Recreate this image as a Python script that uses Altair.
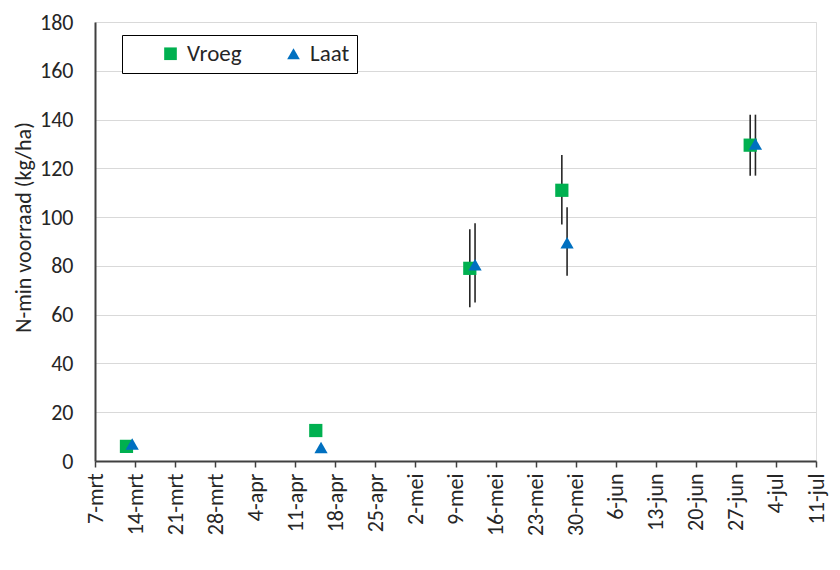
import altair as alt
import pandas as pd

# ---- data ----
series = ["Vroeg", "Laat"]
colors = ["#00B050", "#0070C0"]
shapes = ["square", "triangle-up"]

vroeg_dates = ["2022-03-12T12:00:00Z", "2022-04-14T14:00:00Z", "2022-05-11T12:00:00Z",
               "2022-05-27T14:00:00Z", "2022-06-29T12:00:00Z"]
vroeg_vals = [6, 12.5, 79, 111, 129.5]
vroeg_low = [None, None, 63, 97, 117]
vroeg_high = [None, None, 95, 125.5, 142]

laat_dates = ["2022-03-13T12:00:00Z", "2022-04-15T12:00:00Z", "2022-05-12T10:00:00Z",
              "2022-05-28T12:00:00Z", "2022-06-30T10:00:00Z"]
laat_vals = [7, 5.5, 80.5, 89.5, 130]
laat_low = [None, None, 65, 76, 117]
laat_high = [None, None, 97.5, 104, 142]

tick_dates = ["2022-03-07", "2022-03-14", "2022-03-21", "2022-03-28", "2022-04-04",
              "2022-04-11", "2022-04-18", "2022-04-25", "2022-05-02", "2022-05-09",
              "2022-05-16", "2022-05-23", "2022-05-30", "2022-06-06", "2022-06-13",
              "2022-06-20", "2022-06-27", "2022-07-04", "2022-07-11"]
month_names = ["jan", "feb", "mrt", "apr", "mei", "jun", "jul", "aug", "sep", "okt", "nov", "dec"]
y_ticks = [0, 20, 40, 60, 80, 100, 120, 140, 160, 180]

rows = []
for name, ds, vs, lo, hi in [("Vroeg", vroeg_dates, vroeg_vals, vroeg_low, vroeg_high),
                             ("Laat", laat_dates, laat_vals, laat_low, laat_high)]:
    for d, v, l, h in zip(ds, vs, lo, hi):
        rows.append({"serie": name, "date": d, "value": v, "low": l, "high": h})
df = pd.DataFrame(rows)

tick_ms = [int(pd.Timestamp(t, tz="UTC").timestamp() * 1000) for t in tick_dates]
month_js = "[" + ",".join("'%s'" % m for m in month_names) + "]"
label_expr = "utcdate(datum.value) + '-' + " + month_js + "[utcmonth(datum.value)]"

FONT = "Calibri, Carlito, Lato, sans-serif"
FS = 22

x_enc = alt.X(
    "date:T",
    scale=alt.Scale(type="utc", domain=[tick_ms[0], tick_ms[-1]], nice=False),
    axis=alt.Axis(values=tick_ms, labelExpr=label_expr, labelAngle=-90, grid=False,
                  title=None, tickSize=6, tickColor="#404040", tickWidth=1.5,
                  domainColor="#404040", domainWidth=2, labelPadding=6,
                  labelFontSize=FS, labelColor="#262626", labelFont=FONT),
)
y_enc = alt.Y(
    "value:Q",
    scale=alt.Scale(domain=[0, 180], nice=False),
    axis=alt.Axis(values=y_ticks, ticks=False, grid=True, gridColor="#d9d9d9",
                  gridWidth=1.2, domainColor="#404040", domainWidth=2,
                  labelPadding=22, labelFontSize=FS, labelColor="#262626", labelFont=FONT,
                  title="N-min voorraad (kg/ha)", titleFontSize=22,
                  titleFontWeight="normal", titleColor="#262626", titleFont=FONT,
                  titleX=-60, titleY=205),
)

legend = alt.Legend(orient="none", legendX=27, legendY=13, direction="horizontal",
                    title=" ", titleOrient="left", titlePadding=30, titleFontSize=10,
                    strokeColor="black", fillColor="white",
                    labelExpr="datum.label == 'Laat' ? 'Laat\u00a0\u00a0\u00a0\u00a0\u00a0\u00a0\u00a0' : datum.label",
                    padding=7, labelFontSize=23, labelFont=FONT, labelColor="#262626",
                    symbolSize=160, columnPadding=40, labelOffset=5,
                    symbolStrokeWidth=0)

base = alt.Chart(df)

rules = base.transform_filter("isValid(datum.low)").mark_rule(
    color="#262626", strokeWidth=1.6
).encode(x=x_enc, y=alt.Y("low:Q"), y2="high:Q")

points = base.mark_point(filled=True, opacity=1, size=175).encode(
    x=x_enc,
    y=y_enc,
    color=alt.Color("serie:N", scale=alt.Scale(domain=series, range=colors), legend=legend),
    shape=alt.Shape("serie:N", scale=alt.Scale(domain=series, range=shapes), legend=legend),
)

chart = alt.layer(rules, points).properties(
    width=721, height=439,
    autosize=alt.AutoSizeParams(type="none"),
    padding={"left": 87, "top": 14, "right": 16, "bottom": 90},
).configure_view(stroke=None).configure(background="white")

chart.save("out.html", embed_options={"renderer": "svg", "actions": False})
